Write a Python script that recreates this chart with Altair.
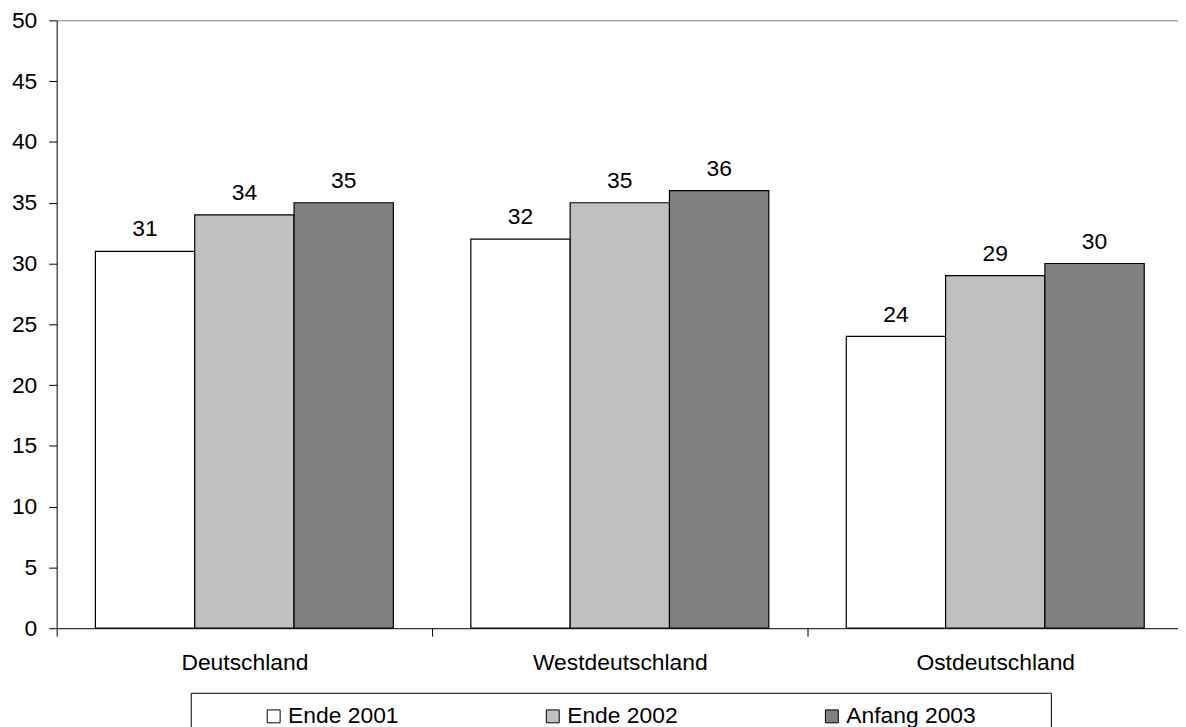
import altair as alt
import pandas as pd

regions = ["Deutschland", "Westdeutschland", "Ostdeutschland"]
series = ["Ende 2001", "Ende 2002", "Anfang 2003"]
ende_2001 = [31, 32, 24]
ende_2002 = [34, 35, 29]
anfang_2003 = [35, 36, 30]
colors = ["#FFFFFF", "#C0C0C0", "#808080"]
y_ticks = list(range(0, 51, 5))

rows = []
for i, r in enumerate(regions):
    for s, vals in zip(series, [ende_2001, ende_2002, anfang_2003]):
        rows.append({"region": r, "series": s, "value": vals[i]})
df = pd.DataFrame(rows)

FONT = "Liberation Sans"
FS = 23

x = alt.X("region:N", sort=regions, title=None,
          scale=alt.Scale(paddingInner=0, paddingOuter=0),
          axis=alt.Axis(labelAngle=0, tickBand="extent", tickSize=8, labelPadding=16,
                        labelFontSize=FS, domainColor="black", tickColor="black",
                        labelColor="black", grid=False))
xo = alt.XOffset("series:N", sort=series,
                 scale=alt.Scale(paddingInner=0, paddingOuter=0.39))
y = alt.Y("value:Q", title=None,
          scale=alt.Scale(domain=[0, 50], nice=False),
          axis=alt.Axis(values=y_ticks, tickSize=8, labelPadding=12, labelFontSize=FS,
                        domainColor="black", tickColor="black", labelColor="black",
                        grid=True,
                        gridColor={"condition": {"test": "datum.value === 50", "value": "#808080"},
                                   "value": "transparent"}))

bars = alt.Chart(df).mark_bar(stroke="black", strokeWidth=1.2).encode(
    x=x, xOffset=xo, y=y,
    fill=alt.Fill("series:N", sort=series,
                  scale=alt.Scale(domain=series, range=colors),
                  legend=alt.Legend(title="MMMMMM", titleOrient="right", titleColor="transparent",
                                    titleFontSize=12, titlePadding=4, titleBaseline="top",
                                    titleAnchor="start",
                                    orient="none", legendX=135, legendY=677,
                                    direction="horizontal", columns=3,
                                    symbolType="square", symbolSize=169,
                                    symbolStrokeColor="black", symbolStrokeWidth=1,
                                    symbolOffset=60,
                                    labelFontSize=FS, labelOffset=3, labelColor="black",
                                    columnPadding=83,
                                    strokeColor="black", fillColor="white", padding=12))
)

labels = alt.Chart(df).mark_text(baseline="alphabetic", dy=-15, fontSize=FS,
                                 color="black", font=FONT).encode(
    x=alt.X("region:N", sort=regions), xOffset=alt.XOffset("series:N", sort=series),
    y="value:Q", text="value:Q")

chart = (bars + labels).properties(
    width=1134, height=612,
    autosize=alt.AutoSizeParams(type="none"),
    padding={"left": 49, "top": 10, "right": -5, "bottom": 97},
).configure(font=FONT).configure_view(stroke=None)

chart.save("out.html", embed_options={"renderer": "svg", "actions": False})
